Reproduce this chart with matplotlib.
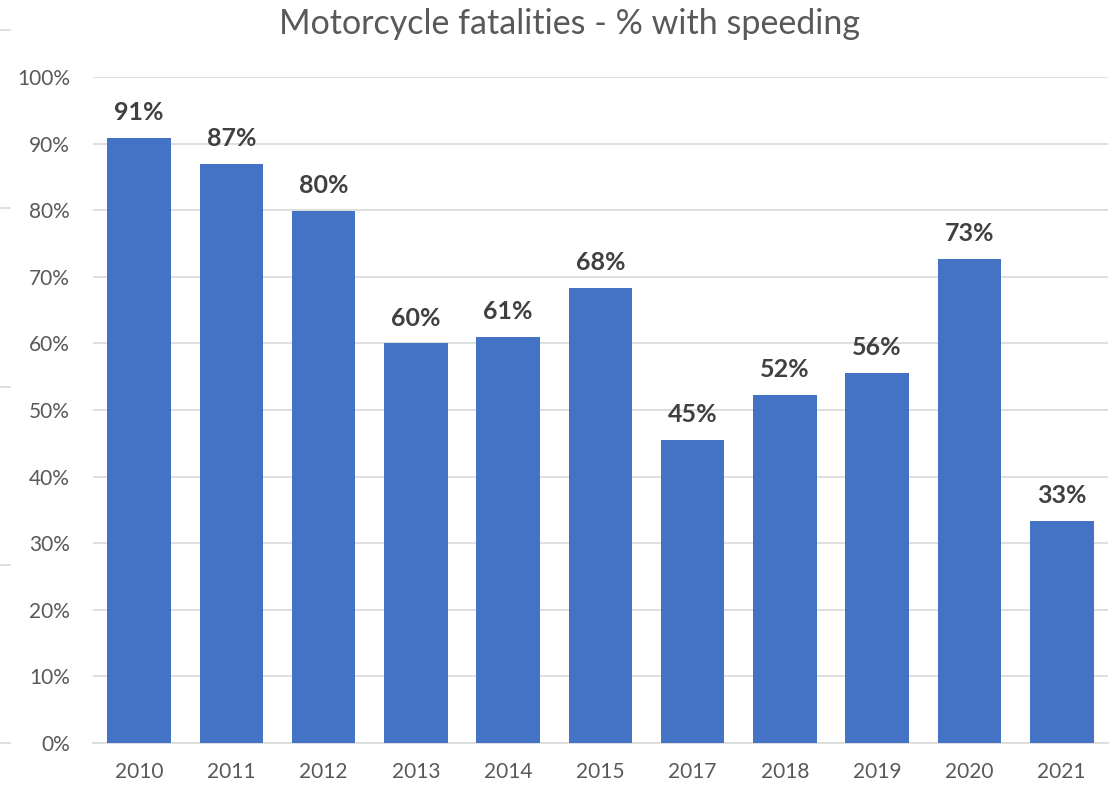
import matplotlib.pyplot as plt
from matplotlib.lines import Line2D

years = ["2010", "2011", "2012", "2013", "2014", "2015", "2017", "2018", "2019", "2020", "2021"]
pct = [0.908, 0.869, 0.799, 0.600, 0.610, 0.683, 0.455, 0.523, 0.555, 0.727, 0.333]
labels = ["91%", "87%", "80%", "60%", "61%", "68%", "45%", "52%", "56%", "73%", "33%"]
yticks = [i / 10 for i in range(11)]
ytick_labels = [f"{i * 10}%" for i in range(11)]

plt.rcParams['font.family'] = ['Lato', 'DejaVu Sans']

fig = plt.figure(figsize=(11.19, 7.86), dpi=100)
ax = fig.add_axes([0.0831, 0.0547, 0.9069, 0.8473])

x = range(len(years))
bars = ax.bar(x, pct, width=0.69, color="#4472C4", zorder=3)

for b, lab in zip(bars, labels):
    ax.annotate(lab, (b.get_x() + b.get_width() / 2, b.get_height()),
                xytext=(0, 10), textcoords="offset points", ha="center", va="bottom",
                fontsize=18, fontweight="bold", color="#404040")

ax.set_xlim(-0.5, len(years) - 0.5)
ax.set_ylim(0, 1.0)
ax.set_yticks(yticks)
ax.set_yticklabels(ytick_labels)
ax.set_xticks(list(x))
ax.set_xticklabels(years)
ax.tick_params(axis="both", length=0, labelsize=15, labelcolor="#595959")
ax.tick_params(axis="y", pad=16.5)
ax.tick_params(axis="x", pad=14)
ax.grid(axis="y", color="#D9D9D9", linewidth=1.2, zorder=0)
for s in ["top", "right", "left"]:
    ax.spines[s].set_visible(False)
ax.spines["bottom"].set_color("#D9D9D9")
ax.spines["bottom"].set_linewidth(1.2)

fig.suptitle("Motorcycle fatalities - % with speeding", x=0.509, y=0.99,
             fontsize=24.5, color="#595959")

# gridline stubs of a neighbouring chart at the left edge
for yy in [30, 208, 387, 565, 743]:
    fig.add_artist(Line2D([0, 10 / 1119], [1 - yy / 786] * 2, color="#D9D9D9", linewidth=1.2))

fig.savefig("out.png", dpi=100)
